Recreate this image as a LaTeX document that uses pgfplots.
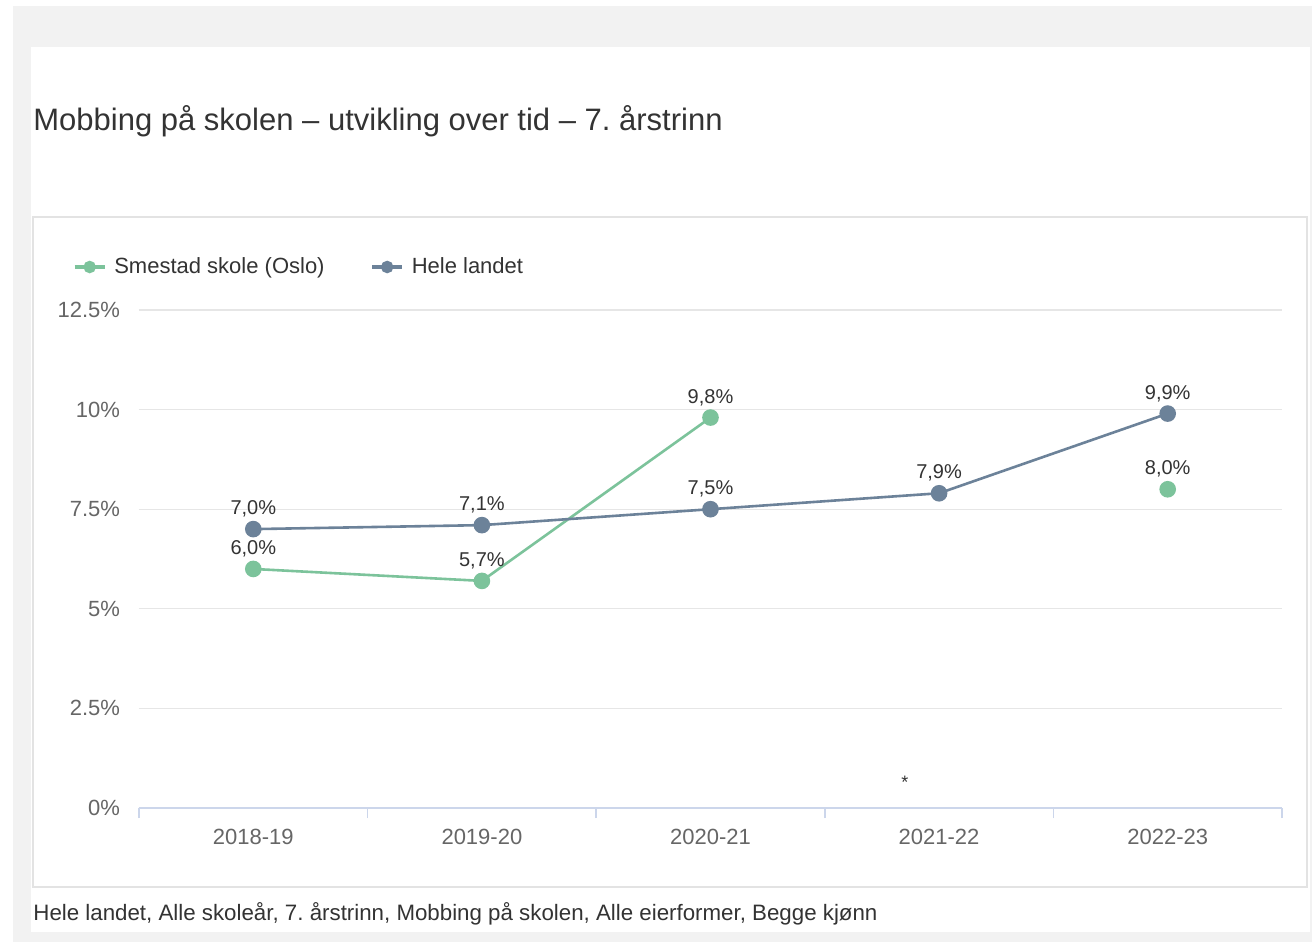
\documentclass[border=0pt]{standalone}
\usepackage{fontspec}
\setmainfont{Liberation Sans}
\usepackage{pgfplots}
\pgfplotsset{compat=1.18}
\definecolor{bggray}{HTML}{F2F2F2}
\definecolor{boxborder}{HTML}{E3E3E3}
\definecolor{gridgray}{HTML}{E6E6E6}
\definecolor{axisblue}{HTML}{CCD6EB}
\definecolor{smgreen}{HTML}{7CC39B}
\definecolor{hlblue}{HTML}{6C8299}
\definecolor{txt}{HTML}{333333}
\definecolor{ticktxt}{HTML}{666666}
\frenchspacing
\begin{document}
\begin{tikzpicture}
\fill[white] (0pt,0pt) rectangle (656pt,471pt);
\fill[bggray] (6.5pt,0pt) rectangle (656pt,468pt);
\fill[white] (15.5pt,5pt) rectangle (655pt,447.5pt);
\draw[boxborder, line width=0.6pt] (16.5pt,27.5pt) rectangle (653.5pt,362.5pt);
\node[anchor=base west, font=\fontsize{15.5}{18}\selectfont, text=txt, inner sep=0pt] at (16.5pt,405.5pt) {Mobbing på skolen – utvikling over tid – 7. årstrinn};
\node[anchor=base west, font=\fontsize{11.15}{13}\selectfont, text=txt, inner sep=0pt] at (16.5pt,10.5pt) {Hele landet, Alle skoleår, 7. årstrinn, Mobbing på skolen, Alle eierformer, Begge kjønn};
\begin{axis}[
  at={(69.5pt,67pt)}, anchor=south west, scale only axis,
  width=571.5pt, height=249pt,
  xmin=-0.5, xmax=4.5, ymin=0, ymax=12.5,
  clip=false,
  axis x line*=bottom, axis y line*=left,
  x axis line style={axisblue, line width=0.8pt, -},
  y axis line style={draw=none},
  xtick={0,1,2,3,4},
  xticklabels={2018-19,2019-20,2020-21,2021-22,2022-23},
  major tick length=0pt,
  extra x ticks={-0.5,0.5,1.5,2.5,3.5,4.5},
  extra x tick labels={},
  extra x tick style={major tick length=5pt, tick align=outside, tick style={draw=axisblue, line width=0.8pt}},
  ytick={0,2.5,5,7.5,10,12.5},
  ytick style={draw=none},
  yticklabel={\pgfmathprintnumber{\tick}\%},
  /pgf/number format/assume math mode=true,
  ymajorgrids, grid style={gridgray, line width=0.6pt},
  tick label style={font=\fontsize{11}{13}\selectfont, text=ticktxt},
  yticklabel style={anchor=east, xshift=-6pt},
  xticklabel style={yshift=-7pt},
  unbounded coords=jump,
  nodes near coords={\pgfmathprintnumber[fixed,fixed zerofill,precision=1,use comma]{\pgfplotspointmeta}\%},
  nodes near coords style={font=\fontsize{10}{12}\selectfont, text=txt, anchor=south, yshift=2pt},
  legend columns=2,
  legend style={draw=none, fill=none, at={(-0.058,1.0863)}, anchor=west, inner sep=0pt,
    font=\fontsize{11}{13}\selectfont, text=txt,
    /tikz/every odd column/.append style={column sep=2pt},
    /tikz/every even column/.append style={column sep=21pt}},
  legend image code/.code={\draw[mark repeat=2,mark phase=2,#1,mark size=2.3pt,line width=1.6pt] plot coordinates {(0pt,0pt)(7.5pt,0pt)(15pt,0pt)};},
]
\addplot[smgreen, line width=1.3pt, mark=*, mark size=3.5pt, mark options={fill=smgreen, draw=smgreen}]
  coordinates {(0,6.0) (1,5.7) (2,9.8) (3,nan) (4,8.0)};
\addlegendentry{Smestad skole (Oslo)}
\addplot[hlblue, line width=1.3pt, mark=*, mark size=3.5pt, mark options={fill=hlblue, draw=hlblue}]
  coordinates {(0,7.0) (1,7.1) (2,7.5) (3,7.9) (4,9.9)};
\addlegendentry{Hele landet}
\node[font=\fontsize{9}{10}\selectfont, text=txt] at (axis cs:2.85,0.65) {*};
\end{axis}
\end{tikzpicture}
\end{document}
